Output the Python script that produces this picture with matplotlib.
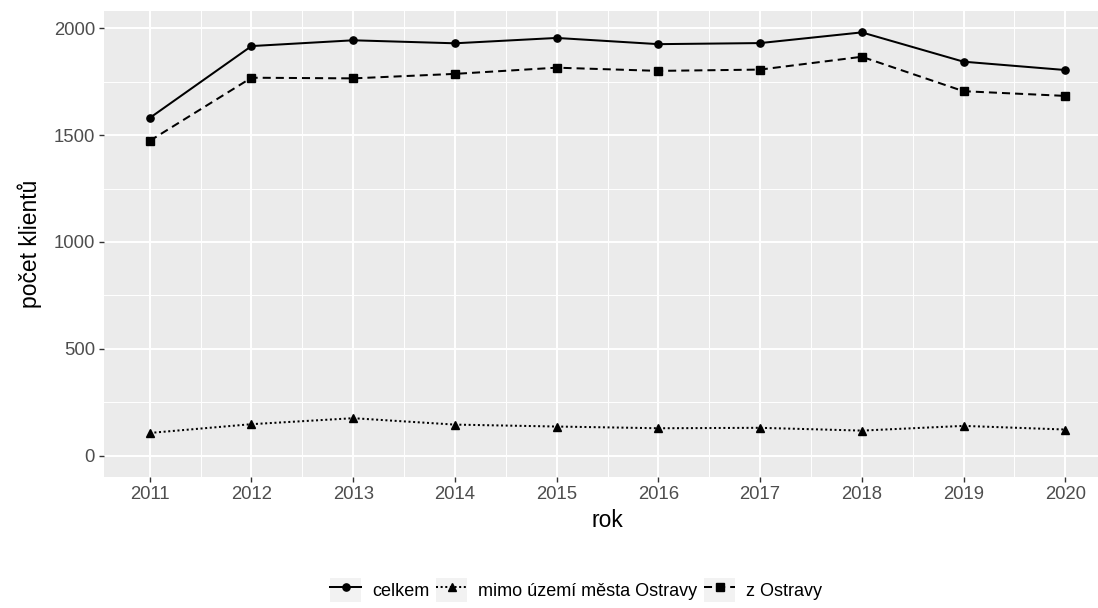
import matplotlib
matplotlib.use("Agg")
import matplotlib.pyplot as plt
from matplotlib.lines import Line2D
from matplotlib.patches import Rectangle
from matplotlib.legend_handler import HandlerTuple
from matplotlib.ticker import MultipleLocator

plt.rcParams['font.family'] = ['Liberation Sans', 'DejaVu Sans']

years = [2011, 2012, 2013, 2014, 2015, 2016, 2017, 2018, 2019, 2020]
celkem = [1580, 1916, 1943, 1929, 1954, 1925, 1930, 1980, 1843, 1804]
mimo = [107, 148, 176, 146, 137, 129, 131, 118, 140, 123]
z_ostravy = [1473, 1768, 1765, 1786, 1815, 1800, 1806, 1866, 1705, 1683]
series_labels = ["celkem", "mimo území města Ostravy", "z Ostravy"]
x_label = "rok"
y_label = "počet klientů"

W, H = 1098, 608
fig = plt.figure(figsize=(W / 100, H / 100), dpi=100)
left, right, top, bottom = 104, 1111, 11, 477
ax = fig.add_axes([left / W, 1 - bottom / H, (right - left) / W, (bottom - top) / H])
ax.set_facecolor('#EBEBEB')
for s in ax.spines.values():
    s.set_visible(False)

lw = 1.45
ax.plot(years, celkem, color='black', lw=lw, ls='-', marker='o', ms=5.2, zorder=3)
ax.plot(years, mimo, color='black', lw=lw, ls=(0, (1, 1.3)), marker='^', ms=6, zorder=3)
ax.plot(years, z_ostravy, color='black', lw=lw, ls=(0, (4, 2.5)), marker='s', ms=6, zorder=3)

ax.set_xlim(2011 - 0.45, 2020 + 0.45)
ax.set_ylim(-99, 2080)
ax.set_xticks(years)
ax.set_xticklabels([str(y) for y in years])
ax.yaxis.set_major_locator(MultipleLocator(500))
ax.yaxis.set_minor_locator(MultipleLocator(250))
ax.xaxis.set_minor_locator(MultipleLocator(0.5))
ax.grid(which='major', color='white', lw=1.4, zorder=0)
ax.grid(which='minor', color='white', lw=0.7, zorder=0)
ax.set_axisbelow(True)
ax.tick_params(which='major', length=3.5, width=1.0, color='#333333', labelcolor='#4D4D4D',
               labelsize=13.3, pad=3)
ax.tick_params(which='minor', length=0)

ax.set_xlabel(x_label, fontsize=16.5, color='black', labelpad=4)
ax.set_ylabel(y_label, fontsize=16.5, color='black', labelpad=8)

bg = '#F2F2F2'
def key(ls, marker, ms):
    return (Rectangle((0, 0), 1, 1, facecolor=bg, edgecolor='none'),
            Line2D([], [], color='black', lw=lw, ls=ls, marker=marker, ms=ms))
handles = [key('-', 'o', 5.2), key((0, (1, 1.3)), '^', 6), key((0, (4, 2.5)), 's', 6)]
fig.legend(handles, series_labels, loc='center', bbox_to_anchor=(576 / W, 1 - 590 / H),
           ncol=3, frameon=False, fontsize=13, handler_map={tuple: HandlerTuple(ndivide=1, pad=0)},
           handlelength=1.7, handleheight=1.6, handletextpad=0.6, columnspacing=0.4)

fig.savefig('out.png', dpi=100)
